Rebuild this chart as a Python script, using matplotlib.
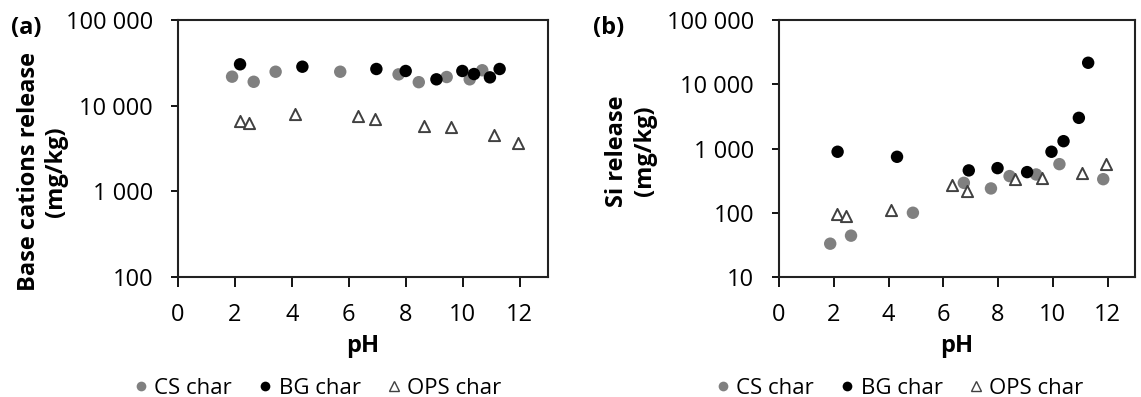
import matplotlib
matplotlib.use("Agg")
import matplotlib.pyplot as plt
from matplotlib.lines import Line2D
from matplotlib.ticker import FixedLocator, FixedFormatter, NullLocator

plt.rcParams['font.family'] = ['Open Sans', 'DejaVu Sans']

# Panel (a): base cations release (mg/kg)
a_cs_ph = [1.90, 2.66, 3.43, 5.70, 7.75, 8.46, 9.44, 10.25, 10.69]
a_cs_val = [21800, 19000, 24900, 24900, 23200, 18800, 21600, 20300, 25900]
a_bg_ph = [2.18, 4.37, 6.97, 8.00, 9.08, 9.99, 10.40, 10.96, 11.30]
a_bg_val = [30400, 28500, 26800, 25400, 20300, 25400, 23400, 21400, 26800]
a_ops_ph = [2.17, 2.50, 4.11, 6.34, 6.91, 8.63, 9.60, 11.10, 11.96]
a_ops_val = [6680, 6320, 7950, 7600, 6940, 5800, 5600, 4550, 3700]

# Panel (b): Si release (mg/kg)
b_cs_ph = [1.87, 2.63, 4.89, 6.75, 7.74, 8.42, 9.39, 10.24, 11.84]
b_cs_val = [33, 44, 100, 292, 239, 372, 394, 571, 333]
b_bg_ph = [2.14, 4.31, 6.93, 7.98, 9.06, 9.95, 10.39, 10.95, 11.29]
b_bg_val = [890, 743, 456, 495, 429, 890, 1300, 3000, 21600]
b_ops_ph = [2.13, 2.46, 4.10, 6.30, 6.87, 8.60, 9.59, 11.08, 11.93]
b_ops_val = [95, 88, 112, 275, 217, 333, 342, 414, 565]

x_ticks = [0, 2, 4, 6, 8, 10, 12]
a_yticks = [100, 1000, 10000, 100000]
a_ylabels = ['100', '1 000', '10 000', '100 000']
b_yticks = [10, 100, 1000, 10000, 100000]
b_ylabels = ['10', '100', '1 000', '10 000', '100 000']
series_names = ['CS char', 'BG char', 'OPS char']

W, H = 1141, 397
fig = plt.figure(figsize=(W / 100, H / 100), dpi=100)

def box(l, t, r, b):
    return [l / W, 1 - b / H, (r - l) / W, (b - t) / H]

ax_a = fig.add_axes(box(178, 20, 548, 277))
ax_b = fig.add_axes(box(779, 20, 1135, 277))

GRAY = '#808080'
FS = 17

def draw(ax, cs, bg, ops, yticks, ylabels, ylim, ylabel, ylabel_xy):
    ax.scatter(cs[0], cs[1], s=80, color=GRAY, edgecolors='none', zorder=3)
    ax.scatter(bg[0], bg[1], s=80, color='black', edgecolors='none', zorder=4)
    ax.scatter(ops[0], ops[1], s=65, marker='^', facecolors='white',
               edgecolors='#404040', linewidths=1.4, zorder=5)
    ax.set_yscale('log')
    ax.set_ylim(*ylim)
    ax.set_xlim(0, 13)
    ax.xaxis.set_major_locator(FixedLocator(x_ticks))
    ax.set_xticklabels([str(v) for v in x_ticks])
    ax.yaxis.set_major_locator(FixedLocator(yticks))
    ax.yaxis.set_major_formatter(FixedFormatter(ylabels))
    ax.yaxis.set_minor_locator(NullLocator())
    ax.tick_params(axis='x', direction='out', length=7, width=1.3, pad=12,
                   labelsize=FS)
    ax.tick_params(axis='y', direction='out', length=5, width=1.3, pad=13,
                   labelsize=FS)
    for s in ax.spines.values():
        s.set_linewidth(1.5)
        s.set_color('#222222')
    ax.set_xlabel('pH', fontsize=FS, fontweight='bold', labelpad=5)
    ax.set_ylabel(ylabel, fontsize=FS, fontweight='bold', linespacing=1.2)
    ax.yaxis.set_label_coords(*ylabel_xy)

draw(ax_a, (a_cs_ph, a_cs_val), (a_bg_ph, a_bg_val), (a_ops_ph, a_ops_val),
     a_yticks, a_ylabels, (100, 100000), 'Base cations release\n(mg/kg)', (-0.297, 0.41))
draw(ax_b, (b_cs_ph, b_cs_val), (b_bg_ph, b_bg_val), (b_ops_ph, b_ops_val),
     b_yticks, b_ylabels, (10, 100000), 'Si release\n(mg/kg)', (-0.343, 0.49))

fig.text(11 / W, 1 - 28 / H, '(a)', fontsize=FS, fontweight='bold', va='center', ha='left')
fig.text(593 / W, 1 - 28 / H, '(b)', fontsize=FS, fontweight='bold', va='center', ha='left')

def handles():
    return [
        Line2D([], [], linestyle='none', marker='o', markersize=7, color=GRAY, markeredgecolor='none'),
        Line2D([], [], linestyle='none', marker='o', markersize=7, color='black', markeredgecolor='none'),
        Line2D([], [], linestyle='none', marker='^', markersize=7, markerfacecolor='white',
               markeredgecolor='#404040', markeredgewidth=1.0),
    ]

for cx in (318, 900):
    fig.legend(handles(), series_names, loc='center', bbox_to_anchor=(cx / W, 1 - 388 / H),
               ncol=3, frameon=False, fontsize=16, handlelength=0.6, handletextpad=0.3,
               columnspacing=1.2, borderaxespad=0, borderpad=0)

fig.savefig('out.png', dpi=100)
